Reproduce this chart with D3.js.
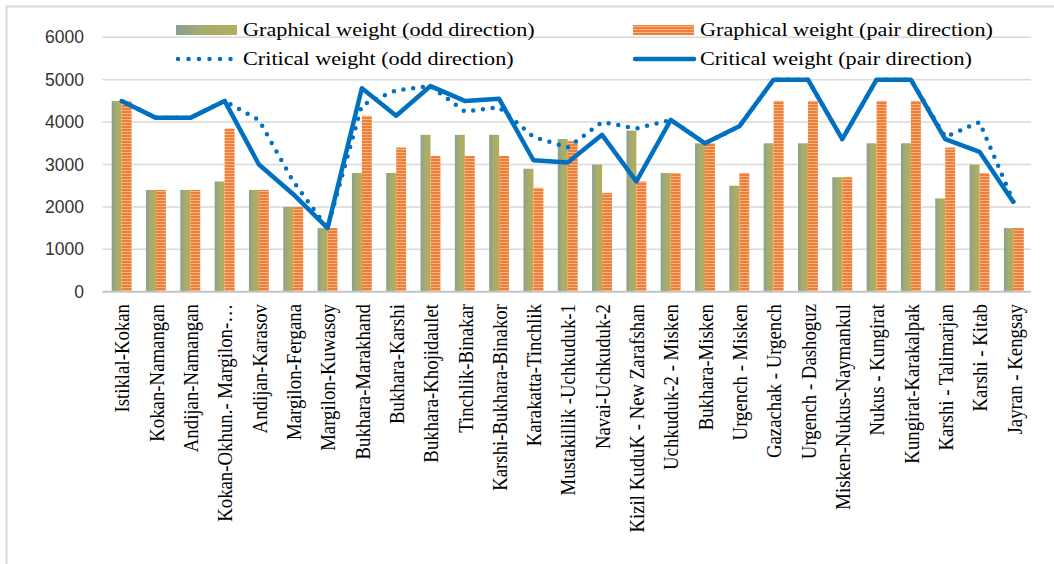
<!DOCTYPE html>
<html>
<head>
<meta charset="utf-8">
<script src="https://cdn.jsdelivr.net/npm/d3@7"></script>
<style>
  body { margin: 0; background: #fff; }
  svg { display: block; }
</style>
</head>
<body>
<div id="chart"></div>
<script>
const categories = ['Istiklal-Kokan', 'Kokan-Namangan', 'Andijan-Namangan', 'Kokan-Okhun.- Margilon-…',
  'Andijan-Karasov', 'Margilon-Fergana', 'Margilon-Kuwasoy', 'Bukhara-Marakhand', 'Bukhara-Karshi',
  'Bukhara-Khojidaulet', 'Tinchlik-Binakar', 'Karshi-Bukhara-Binakor', 'Karakatta-Tinchlik',
  'Mustakillik -Uchkuduk-1', 'Navai-Uchkuduk-2', 'Kizil KuduK - New Zarafshan', 'Uchkuduk-2 - Misken',
  'Bukhara-Misken', 'Urgench - Misken', 'Gazachak - Urgench', 'Urgench - Dashoguz',
  'Misken-Nukus-Naymankul', 'Nukus - Kungirat', 'Kungirat-Karakalpak', 'Karshi - Talimarjan',
  'Karshi - Kitab', 'Jayran - Kengsay'];

const graphOdd  = [4500, 2400, 2400, 2600, 2400, 2000, 1500, 2800, 2800, 3700, 3700, 3700, 2900,
  3600, 3000, 3800, 2800, 3500, 2500, 3500, 3500, 2700, 3500, 3500, 2200, 3000, 1500];
const graphPair = [4500, 2400, 2400, 3850, 2400, 2000, 1500, 4150, 3400, 3200, 3200, 3200, 2450,
  3550, 2330, 2600, 2800, 3500, 2800, 4500, 4500, 2700, 4500, 4500, 3400, 2800, 1500];
const critOdd   = [4500, 4100, 4100, 4500, 4050, 2600, 1500, 4400, 4750, 4850, 4250, 4350, 3650,
  3400, 4000, 3850, 4050, 3500, 3900, 5000, 5000, 3600, 5000, 5000, 3650, 4000, 2100];
const critPair  = [4500, 4100, 4100, 4500, 3000, 2300, 1500, 4800, 4150, 4850, 4500, 4550, 3100,
  3050, 3700, 2600, 4050, 3500, 3900, 5000, 5000, 3600, 5000, 5000, 3600, 3300, 2100];
const yTicks = [0, 1000, 2000, 3000, 4000, 5000, 6000];

const W = 1054, H = 564;
const plotLeft = 104.5, plotRight = 1031, plotTop = 37.3, plotBottom = 291.7;
const stretch = 1.17; // text in the picture is a bit wider than tall

const svg = d3.select('#chart').append('svg')
  .attr('width', W).attr('height', H);

const defs = svg.append('defs');
const grad = defs.append('linearGradient').attr('id', 'gOdd')
  .attr('x1', 0).attr('x2', 1).attr('y1', 0).attr('y2', 0);
grad.append('stop').attr('offset', 0).attr('stop-color', '#86a190');
grad.append('stop').attr('offset', 0.45).attr('stop-color', '#a9ab6c');
grad.append('stop').attr('offset', 1).attr('stop-color', '#b3ae5c');

const pat = defs.append('pattern').attr('id', 'pPair')
  .attr('patternUnits', 'userSpaceOnUse').attr('width', 10).attr('height', 3);
pat.append('rect').attr('width', 10).attr('height', 3).attr('fill', '#ef7f36');
pat.append('rect').attr('y', 2).attr('width', 10).attr('height', 1).attr('fill', '#f8b58a');

// outer frame
svg.append('rect').attr('x', 6.5).attr('y', 6.5).attr('width', 1100).attr('height', 600)
  .attr('fill', 'none').attr('stroke', '#d9d9d9').attr('stroke-width', 2);

const x = d3.scaleBand().domain(categories).range([plotLeft, plotRight])
  .paddingInner(0.42).paddingOuter(0.21);
const xs = d3.scaleBand().domain(['odd', 'pair']).range([0, x.bandwidth()]);
const y = d3.scaleLinear().domain([0, 6000]).range([plotBottom, plotTop]);

// grid
svg.append('g').selectAll('line').data(yTicks.filter(d => d > 0)).join('line')
  .attr('x1', plotLeft - 2).attr('x2', plotRight)
  .attr('y1', d => y(d)).attr('y2', d => y(d))
  .attr('stroke', '#d9d9d9').attr('stroke-width', 1.5);

// y labels
svg.append('g').selectAll('text').data(yTicks).join('text')
  .attr('x', 84).attr('y', d => y(d)).attr('dy', '0.35em')
  .attr('text-anchor', 'end')
  .attr('font-family', 'Liberation Sans, Arial, sans-serif').attr('font-size', 17.5)
  .attr('fill', '#333').text(d => d);

// bars
const groups = svg.append('g').selectAll('g').data(categories).join('g')
  .attr('transform', d => `translate(${x(d)},0)`);
groups.append('rect')
  .attr('x', xs('odd')).attr('width', xs.bandwidth())
  .attr('y', (d, i) => y(graphOdd[i])).attr('height', (d, i) => y(0) - y(graphOdd[i]))
  .attr('fill', 'url(#gOdd)');
groups.append('rect')
  .attr('x', xs('pair')).attr('width', xs.bandwidth())
  .attr('y', (d, i) => y(graphPair[i])).attr('height', (d, i) => y(0) - y(graphPair[i]))
  .attr('fill', 'url(#pPair)');

// baseline
svg.append('line').attr('x1', plotLeft - 2).attr('x2', plotRight)
  .attr('y1', y(0)).attr('y2', y(0))
  .attr('stroke', '#c4c4c4').attr('stroke-width', 2);

// lines
const line = d3.line()
  .x((d, i) => x(categories[i]) + x.bandwidth() / 2)
  .y(d => y(d));

svg.append('path').datum(critOdd).attr('d', line)
  .attr('fill', 'none').attr('stroke', '#0070c0').attr('stroke-width', 4.5)
  .attr('stroke-linecap', 'round').attr('stroke-dasharray', '0 9.8');
svg.append('path').datum(critPair).attr('d', line)
  .attr('fill', 'none').attr('stroke', '#0070c0').attr('stroke-width', 4.5)
  .attr('stroke-linejoin', 'round');

// x labels
svg.append('g').selectAll('text').data(categories).join('text')
  .attr('transform', d => `translate(${x(d) + x.bandwidth() / 2},304) scale(${stretch},1) rotate(-90)`)
  .attr('dy', '0.35em').attr('text-anchor', 'end')
  .attr('font-family', 'Liberation Serif, Times New Roman, serif').attr('font-size', 18.8)
  .attr('fill', '#000').text(d => d);

// legend
const legend = svg.append('g')
  .attr('font-family', 'Liberation Serif, Times New Roman, serif').attr('font-size', 19)
  .attr('fill', '#000');
const lg = [
  {label: 'Graphical weight (odd direction)', x: 176, y: 30, type: 'odd'},
  {label: 'Graphical weight (pair direction)', x: 633, y: 30, type: 'pair'},
  {label: 'Critical weight (odd direction)', x: 176, y: 59, type: 'dot'},
  {label: 'Critical weight (pair direction)', x: 633, y: 59, type: 'solid'}
];
lg.forEach(d => {
  if (d.type === 'odd' || d.type === 'pair') {
    legend.append('rect').attr('x', d.x).attr('y', d.y - 5).attr('width', 61).attr('height', 10)
      .attr('fill', d.type === 'odd' ? 'url(#gOdd)' : 'url(#pPair)');
  } else {
    legend.append('line').attr('x1', d.x + 2).attr('x2', d.x + 61)
      .attr('y1', d.y).attr('y2', d.y)
      .attr('stroke', '#0070c0').attr('stroke-width', 4.5).attr('stroke-linecap', 'round')
      .attr('stroke-dasharray', d.type === 'dot' ? '0 10.5' : null);
  }
  legend.append('text')
    .attr('transform', `translate(${d.x + 67},${d.y}) scale(${stretch},1)`)
    .attr('dy', '0.33em').text(d.label);
});
</script>
</body>
</html>
